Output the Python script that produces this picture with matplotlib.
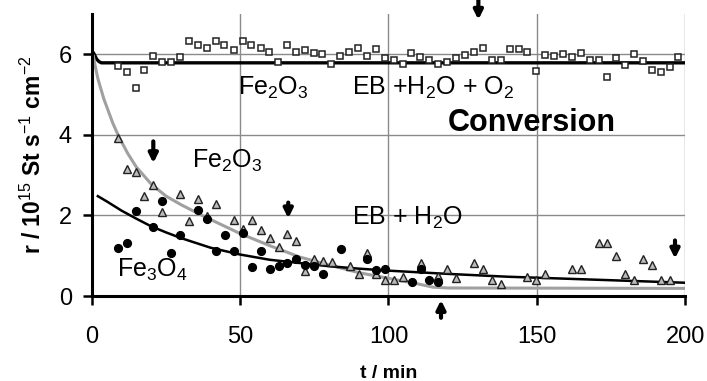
import matplotlib
matplotlib.use('Agg')
import matplotlib.pyplot as plt

plt.rcParams['font.family'] = ['Liberation Sans', 'DejaVu Sans']
plt.rcParams['mathtext.fontset'] = 'custom'
plt.rcParams['mathtext.rm'] = 'Liberation Sans'
plt.rcParams['mathtext.it'] = 'Liberation Sans'
plt.rcParams['mathtext.bf'] = 'Liberation Sans:bold'

# EB + H2O + O2 on Fe2O3 (open squares)
sq_t = [8.7, 11.7, 14.7, 17.6, 20.7, 23.7, 26.7, 29.8, 32.7, 35.7, 38.8, 41.8, 44.7, 47.8,
        50.8, 53.8, 56.9, 59.8, 62.8, 65.8, 68.7, 71.7, 74.8, 77.7, 80.7, 83.7, 86.8, 89.7,
        92.6, 95.7, 98.7, 101.8, 104.8, 107.7, 110.7, 113.8, 116.7, 119.7, 122.8, 125.8,
        128.8, 131.9, 134.8, 137.8, 140.9, 143.9, 146.8, 149.8, 152.9, 155.8, 158.8, 161.9,
        164.8, 167.8, 170.9, 173.8, 176.8, 179.9, 182.8, 185.8, 188.8, 191.8, 194.8, 197.7]
sq_r = [5.72, 5.56, 5.17, 5.61, 5.95, 5.80, 5.80, 5.93, 6.32, 6.24, 6.16, 6.32, 6.24, 6.10,
        6.32, 6.24, 6.16, 6.07, 5.81, 6.24, 6.07, 6.10, 6.03, 6.02, 5.75, 5.95, 6.05, 6.16,
        5.95, 6.14, 5.91, 5.87, 5.76, 6.03, 5.93, 5.87, 5.75, 5.81, 5.90, 5.98,
        6.07, 6.16, 5.87, 5.87, 6.14, 6.14, 6.06, 5.59, 5.99, 5.97, 6.02, 5.94,
        6.03, 5.87, 5.87, 5.45, 5.91, 5.73, 6.01, 5.84, 5.62, 5.55, 5.68, 5.94]

# EB + H2O on Fe2O3 (triangles)
tri_t = [8.9, 11.7, 14.7, 17.6, 20.7, 23.7, 29.8, 32.8, 35.9, 38.9, 41.8, 47.9, 50.9, 54.0,
         56.9, 59.9, 63.0, 65.9, 68.9, 71.9, 74.9, 77.9, 80.9, 86.9, 89.9, 92.7, 95.8, 98.7,
         101.7, 104.8, 110.9, 116.8, 119.8, 122.8, 128.8, 131.8, 134.8, 137.8, 146.8, 149.8,
         152.9, 161.9, 164.8, 170.9, 173.8, 176.8, 179.9, 182.8, 185.8, 188.8, 191.8, 194.8]
tri_r = [3.93, 3.15, 3.09, 2.49, 2.76, 2.09, 2.53, 1.87, 2.41, 1.98, 2.29, 1.88, 1.66, 1.89,
         1.65, 1.44, 1.22, 1.53, 1.37, 0.62, 0.93, 0.86, 0.85, 0.74, 0.54, 1.07, 0.54, 0.41,
         0.41, 0.47, 0.81, 0.50, 0.67, 0.44, 0.81, 0.66, 0.40, 0.31, 0.48, 0.40,
         0.54, 0.66, 0.66, 1.32, 1.32, 0.99, 0.54, 0.41, 0.93, 0.77, 0.41, 0.41]

# EB + H2O on Fe3O4 (filled circles)
cir_t = [8.9, 11.7, 14.8, 20.7, 23.7, 26.8, 29.8, 35.9, 38.9, 41.8, 44.9, 47.9, 50.9, 54.0,
         56.9, 59.9, 63.0, 65.9, 68.9, 71.9, 74.9, 77.9, 83.9, 92.7, 95.8, 98.7, 107.8,
         110.9, 113.8, 116.8]
cir_r = [1.19, 1.32, 2.10, 1.71, 2.37, 1.06, 1.52, 2.13, 1.91, 1.12, 1.52, 1.13, 1.56, 0.72,
         1.13, 0.66, 0.74, 0.82, 0.93, 0.77, 0.74, 0.54, 1.18, 0.91, 0.64, 0.66, 0.36,
         0.67, 0.41, 0.35]

# fitted curves
fit_top_t = [0, 0.4, 0.8, 1.6, 2.4, 3.2, 200]
fit_top_r = [6.06, 6.05, 6.0, 5.88, 5.82, 5.79, 5.79]

fit_gray_t = [0.5, 1, 2, 3, 4, 5, 7, 9, 12, 15, 20, 25, 30, 35, 40, 50, 60, 70, 80, 90,
              100, 110, 115, 120, 200]
fit_gray_r = [5.95, 5.75, 5.4, 5.15, 4.9, 4.7, 4.3, 3.97, 3.55, 3.2, 2.78, 2.48, 2.27, 2.08,
              1.9, 1.55, 1.25, 0.97, 0.77, 0.58, 0.44, 0.3, 0.22, 0.2, 0.19]

fit_blk_t = [2, 5, 10, 15, 20, 25, 30, 40, 50, 60, 70, 80, 90, 100, 120, 140, 160, 180, 200]
fit_blk_r = [2.48, 2.35, 2.12, 1.92, 1.73, 1.58, 1.44, 1.2, 1.03, 0.9, 0.82, 0.74, 0.68,
             0.63, 0.55, 0.48, 0.43, 0.38, 0.33]

# arrows: (t, tail r, head r)
arrows = [(20.7, 3.84, 3.3), (66.2, 2.32, 1.93), (130.3, 7.4, 6.86),
          (196.6, 1.38, 0.93), (117.7, -0.54, -0.1)]

fig = plt.figure(figsize=(7.07, 3.81), dpi=100)
ax = fig.add_axes([0.130, 0.223, 0.839, 0.740])

ax.plot(fit_top_t, fit_top_r, color='black', lw=2.4, zorder=3)
ax.plot(fit_gray_t, fit_gray_r, color='#a0a0a0', lw=2.2, zorder=3)
ax.plot(fit_blk_t, fit_blk_r, color='black', lw=1.8, zorder=3)

ax.plot(sq_t, sq_r, 's', ms=4.8, mfc='white', mec='#222222', mew=1.1, zorder=4)
ax.plot(tri_t, tri_r, '^', ms=5.4, mfc='#bbbbbb', mec='#222222', mew=1.0, zorder=4)
ax.plot(cir_t, cir_r, 'o', ms=5.6, mfc='black', mec='black', zorder=4)

for t, r0, r1 in arrows:
    ax.annotate('', xy=(t, r1), xytext=(t, r0),
                arrowprops=dict(arrowstyle='-|>', color='black', lw=3.0,
                                mutation_scale=13, shrinkA=0, shrinkB=0),
                annotation_clip=False, zorder=5)

ax.text(49.2, 5.16, r'Fe$_2$O$_3$', fontsize=18, va='center', ha='left')
ax.text(87.6, 5.16, r'EB +H$_2$O + O$_2$', fontsize=18, va='center', ha='left')
ax.text(120, 4.3, 'Conversion', fontsize=22, fontweight='bold', va='center', ha='left')
ax.text(33.7, 3.36, r'Fe$_2$O$_3$', fontsize=18, va='center', ha='left')
ax.text(87.6, 1.93, r'EB + H$_2$O', fontsize=18, va='center', ha='left')
ax.text(8.4, 0.64, r'Fe$_3$O$_4$', fontsize=18, va='center', ha='left')

ax.set_xlim(0, 200)
ax.set_ylim(0, 7)
ax.set_xticks([0, 50, 100, 150, 200])
ax.set_yticks([0, 2, 4, 6])
ax.grid(True, color='#8a8a8a', lw=1.0)
ax.set_axisbelow(True)

for s in ['top', 'right']:
    ax.spines[s].set_visible(False)
for s in ['left', 'bottom']:
    ax.spines[s].set_linewidth(2.2)
    ax.spines[s].set_zorder(6)

ax.tick_params(axis='both', labelsize=17, width=1.8, length=6.5, direction='out')
ax.tick_params(axis='x', pad=15)
ax.tick_params(axis='y', pad=8)
ax.set_xlabel('t / min', fontsize=14, fontweight='bold', labelpad=12)
ax.set_ylabel(r'r / 10$^{15}$ St s$^{-1}$ cm$^{-2}$', fontsize=16.5, fontweight='bold',
              labelpad=9)

fig.savefig('out.png', dpi=100)
